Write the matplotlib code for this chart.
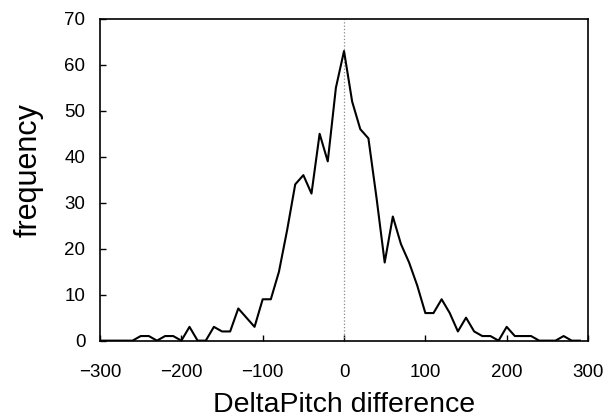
import matplotlib
matplotlib.use('Agg')
import matplotlib.pyplot as plt
import numpy as np

# DeltaPitch difference bins (step 10) and their frequencies
delta_pitch = list(range(-300, 300, 10))
frequency = [0, 0, 0, 0, 0, 1, 1, 0, 1, 1,
             0, 3, 0, 0, 3, 2, 2, 7, 5, 3,
             9, 9, 15, 24, 34, 36, 32, 45, 39, 55,
             63, 52, 46, 44, 31, 17, 27, 21, 17, 12,
             6, 6, 9, 6, 2, 5, 2, 1, 1, 0,
             3, 1, 1, 1, 0, 0, 0, 1, 0, 0]

x_ticks = [-300, -200, -100, 0, 100, 200, 300]
y_ticks = [0, 10, 20, 30, 40, 50, 60, 70]

plt.rcParams['font.family'] = ['Liberation Sans', 'DejaVu Sans']

fig = plt.figure(figsize=(6.11, 4.19), dpi=100)
ax = fig.add_axes([0.1637, 0.187, 0.7987, 0.768])

ax.axvline(0, color='#888888', linestyle=':', linewidth=0.9)  # zero reference
ax.plot(delta_pitch, frequency, color='black', linewidth=1.5)

ax.set_xlim(-300, 300)
ax.set_ylim(0, 70)
ax.set_xticks(x_ticks)
ax.set_yticks(y_ticks)
ax.tick_params(direction='in', length=4, width=1, labelsize=13.5)
ax.tick_params(axis='x', pad=17)
ax.tick_params(axis='y', pad=10.5)

for s in ax.spines.values():
    s.set_linewidth(1.2)

ax.set_xlabel('DeltaPitch difference', fontsize=20.5, labelpad=8)
ax.set_ylabel('frequency', fontsize=22, labelpad=15)
ax.yaxis.label.set_y(0.53)  # label sits a bit above the middle in the original

fig.savefig('out.png', dpi=100)
